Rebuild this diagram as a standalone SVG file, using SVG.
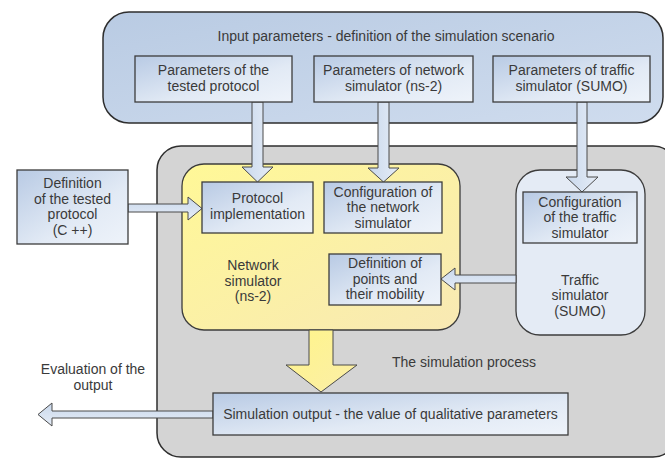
<svg xmlns="http://www.w3.org/2000/svg" width="665" height="460" viewBox="0 0 665 460">
<defs>
<linearGradient id="gTop" x1="0" y1="0" x2="1" y2="1"><stop offset="0" stop-color="#b9cbe3"/><stop offset="1" stop-color="#cfdcee"/></linearGradient>
<linearGradient id="gBox" x1="0" y1="0" x2="1" y2="1"><stop offset="0" stop-color="#b8cae4"/><stop offset="0.6" stop-color="#e2eaf5"/><stop offset="1" stop-color="#eef3fa"/></linearGradient>
<linearGradient id="gYel" x1="0" y1="0" x2="1" y2="1"><stop offset="0" stop-color="#fff897"/><stop offset="1" stop-color="#f8e9b4"/></linearGradient>
<linearGradient id="gArrV" x1="0" y1="0" x2="1" y2="0"><stop offset="0" stop-color="#c9d8ec"/><stop offset="1" stop-color="#e6edf7"/></linearGradient>
<linearGradient id="gArrH" x1="0" y1="0" x2="0" y2="1"><stop offset="0" stop-color="#c9d8ec"/><stop offset="1" stop-color="#e6edf7"/></linearGradient>
<linearGradient id="gArrY" x1="0" y1="0" x2="1" y2="1"><stop offset="0" stop-color="#fff58a"/><stop offset="1" stop-color="#fbeea8"/></linearGradient>
</defs>
<style>
text{font-family:"Liberation Sans",Arial,sans-serif;font-size:14px;fill:#3a3a3a;text-anchor:middle}
.box{fill:url(#gBox);stroke:#3c3c3c;stroke-width:1.3}
.cont{stroke:#2e2e2e;stroke-width:1.5}
.arr{fill:url(#gArrV);stroke:#4a4a4a;stroke-width:1}
.arrh{fill:url(#gArrH);stroke:#4a4a4a;stroke-width:1}
</style>
<rect width="665" height="460" fill="#ffffff"/>

<g id="input-container">
<rect class="cont" x="103" y="12" width="560" height="111" rx="26" fill="url(#gTop)"/>
<text x="386" y="40.5">Input parameters - definition of the simulation scenario</text>
</g>

<g id="simulation-process">
<rect class="cont" x="157" y="146" width="520" height="311" rx="24" fill="#d4d4d4"/>
<text x="464" y="367">The simulation process</text>
</g>

<g id="network-simulator">
<rect x="182" y="164" width="278" height="166" rx="22" fill="url(#gYel)" stroke="#3c3c3c" stroke-width="1.3"/>
<text x="253" y="270">Network</text>
<text x="253" y="286">simulator</text>
<text x="253" y="301">(ns-2)</text>
</g>

<g id="traffic-simulator">
<rect x="516" y="170" width="129" height="165" rx="24" fill="#e4ebf5" stroke="#3c3c3c" stroke-width="1.3"/>
<text x="580" y="285">Traffic</text>
<text x="580" y="300">simulator</text>
<text x="580" y="316">(SUMO)</text>
</g>

<g id="connectors">
<polygon class="arr" points="252,102 263,102 263,167 273,167 257.5,182 242,167 252,167"/>
<polygon class="arr" points="378,102 389,102 389,168 399,168 383.5,182 368,168 378,168"/>
<polygon class="arr" points="577,102 587,102 587,177 598,177 582,192 566,177 577,177"/>
<polygon class="arrh" points="128,204 188,204 188,197 202,208.5 188,220 188,212 128,212"/>
<polygon class="arrh" points="516,275 455,275 455,268 441,279 455,290 455,283 516,283"/>
<polygon fill="url(#gArrY)" stroke="#4a4a4a" stroke-width="1" points="309,330 333,330 333,365 357,365 321,392 286,365 309,365"/>
<polygon class="arrh" points="213,411 52,411 52,403 38,414.5 52,426 52,418 213,418"/>
</g>

<g id="params-protocol">
<rect class="box" x="135" y="56" width="157" height="46"/>
<text x="213.5" y="75">Parameters of the</text>
<text x="213.5" y="90.5">tested protocol</text>
</g>
<g id="params-ns2">
<rect class="box" x="314" y="56" width="159" height="46"/>
<text x="393.5" y="75">Parameters of network</text>
<text x="393.5" y="90.5">simulator (ns-2)</text>
</g>
<g id="params-sumo">
<rect class="box" x="493" y="56" width="157" height="46"/>
<text x="571.5" y="75">Parameters of traffic</text>
<text x="571.5" y="90.5">simulator (SUMO)</text>
</g>

<g id="definition-protocol">
<rect class="box" x="17" y="170" width="111" height="74"/>
<text x="72.5" y="188">Definition</text>
<text x="72.5" y="204">of the tested</text>
<text x="72.5" y="219">protocol</text>
<text x="72.5" y="235">(C ++)</text>
</g>

<g id="protocol-implementation">
<rect class="box" x="202" y="182" width="111" height="51"/>
<text x="257.5" y="203">Protocol</text>
<text x="257.5" y="218.5">implementation</text>
</g>

<g id="config-network">
<rect class="box" x="324" y="182" width="118" height="51"/>
<text x="383" y="197">Configuration of</text>
<text x="383" y="212">the network</text>
<text x="383" y="227.5">simulator</text>
</g>

<g id="definition-points">
<rect class="box" x="329" y="254" width="112" height="51"/>
<text x="385" y="268">Definition of</text>
<text x="385" y="283.5">points and</text>
<text x="385" y="299">their mobility</text>
</g>

<g id="config-traffic">
<rect class="box" x="523" y="192" width="114" height="51"/>
<text x="580" y="207">Configuration</text>
<text x="580" y="222">of the traffic</text>
<text x="580" y="237.5">simulator</text>
</g>

<g id="simulation-output">
<rect class="box" x="213" y="393" width="355" height="42"/>
<text x="390.5" y="418.5">Simulation output - the value of qualitative parameters</text>
</g>

<g id="evaluation-label">
<text x="93" y="374">Evaluation of the</text>
<text x="93" y="390">output</text>
</g>
</svg>
